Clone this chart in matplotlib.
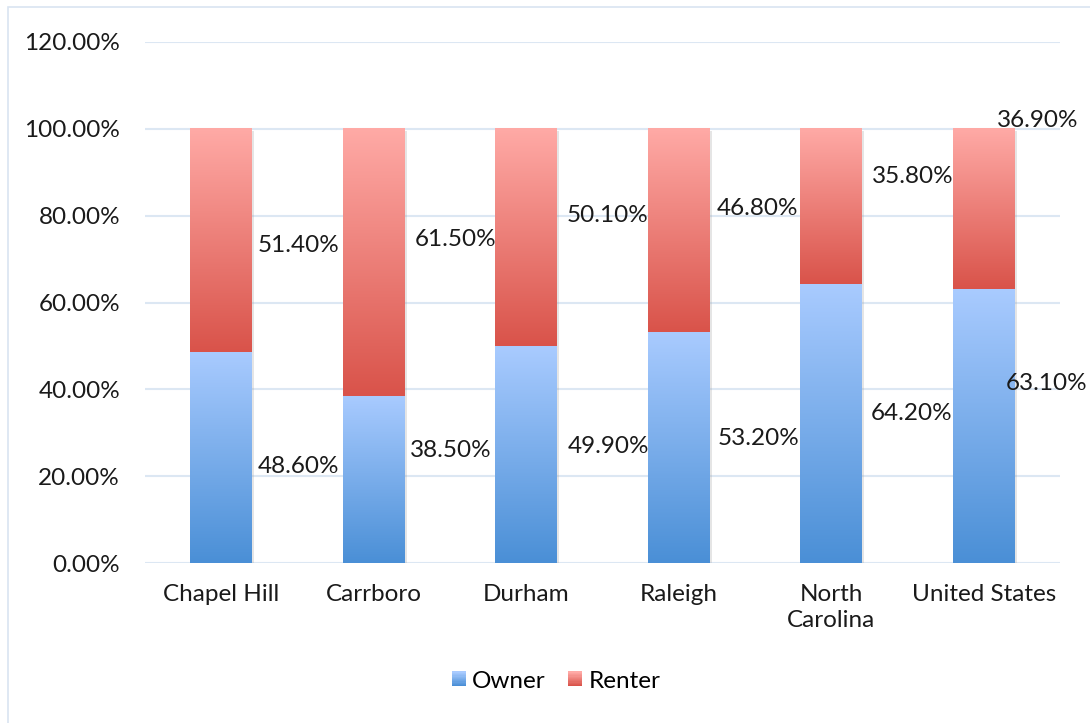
import numpy as np
import matplotlib
matplotlib.use("Agg")
import matplotlib.pyplot as plt
from matplotlib.patches import Rectangle
from matplotlib.legend_handler import HandlerBase
from matplotlib.colors import LinearSegmentedColormap
import matplotlib.patheffects as pe

# ---- data ----
categories = ["Chapel Hill", "Carrboro", "Durham", "Raleigh", "North\nCarolina", "United States"]
owner = [48.6, 38.5, 49.9, 53.2, 64.2, 63.1]
renter = [51.4, 61.5, 50.1, 46.8, 35.8, 36.9]
yticks = [0, 20, 40, 60, 80, 100, 120]

# ---- layout of value labels (as in the reference) ----
owner_lab_y = [22.2, 25.9, 26.8, 28.7, 34.5, 41.4]
renter_lab_y = [73.2, 74.6, 80.1, 81.7, 89.1, 102.0]
owner_lab_dx = [0.236, 0.236, 0.269, 0.256, 0.262, 0.144]
renter_lab_dx = [0.236, 0.269, 0.262, 0.249, 0.269, 0.085]

plt.rcParams['font.family'] = ['Lato', 'DejaVu Sans']
FS = 17.5

blue_cmap = LinearSegmentedColormap.from_list("b", ["#4a8fd6", "#a9cbff"])
red_cmap = LinearSegmentedColormap.from_list("r", ["#d9534a", "#ffaaa6"])

fig = plt.figure(figsize=(10.9, 7.23), dpi=100)
ax = fig.add_axes([145/1090, 1-563/723, (1060-145)/1090, (563-42)/723])

# outer chart border
fig.patches.append(Rectangle((8/1090, -0.02), 1.1, 1-7/723+0.02, transform=fig.transFigure,
                             fill=False, edgecolor="#d9e4f1", linewidth=1.2, zorder=0))

x = np.arange(len(categories))
width = 0.405
shadow = [pe.SimplePatchShadow(offset=(1.5, -1.5), shadow_rgbFace="#999999", alpha=0.25), pe.Normal()]
b1 = ax.bar(x, owner, width, color="white", edgecolor="none", zorder=2)
b2 = ax.bar(x, renter, width, bottom=owner, color="white", edgecolor="none", zorder=2)

grad = np.linspace(0, 1, 256).reshape(-1, 1)
for bars, cmap in ((b1, blue_cmap), (b2, red_cmap)):
    for p in bars:
        p.set_path_effects(shadow)
        x0, y0 = p.get_x(), p.get_y()
        w, h = p.get_width(), p.get_height()
        ax.imshow(grad, cmap=cmap, origin="lower", extent=(x0, x0 + w, y0, y0 + h),
                  aspect="auto", zorder=3, interpolation="bilinear")

# value labels
for i in range(len(categories)):
    ax.text(x[i] + owner_lab_dx[i], owner_lab_y[i], f"{owner[i]:.2f}%", ha="left", va="center",
            fontsize=FS, color="#1a1a1a", zorder=5)
    ax.text(x[i] + renter_lab_dx[i], renter_lab_y[i], f"{renter[i]:.2f}%", ha="left", va="center",
            fontsize=FS, color="#1a1a1a", zorder=5)

ax.set_xlim(-0.5, len(categories) - 0.5)
ax.set_ylim(0, 120)
ax.set_yticks(yticks)
ax.set_yticklabels([f"{v:.2f}%" for v in yticks])
ax.set_xticks(x)
ax.set_xticklabels(categories, linespacing=1.3)
ax.tick_params(axis="both", length=0, labelsize=FS, colors="#1a1a1a")
ax.tick_params(axis="y", pad=18)
ax.tick_params(axis="x", pad=15)
ax.grid(axis="y", color="#dce7f3", linewidth=1.5, zorder=0)
ax.set_axisbelow(True)
for s in ax.spines.values():
    s.set_visible(False)


class GradHandler(HandlerBase):
    def __init__(self, cmap):
        super().__init__()
        self.cmap = cmap

    def create_artists(self, legend, orig_handle, xdescent, ydescent, width, height, fontsize, trans):
        n = 12
        size = height * 0.85
        x0 = -xdescent + width - size
        y0 = -ydescent + (height - size) / 2
        arts = []
        for k in range(n):
            r = Rectangle((x0, y0 + size * k / n), size, size / n + 0.2,
                          facecolor=self.cmap(k / (n - 1)), edgecolor="none", transform=trans)
            arts.append(r)
        return arts


h1 = Rectangle((0, 0), 1, 1)
h2 = Rectangle((0, 0), 1, 1)
fig.legend([h1, h2], ["Owner", "Renter"], loc="center", bbox_to_anchor=(0.509, 1 - 681/723),
           ncol=2, frameon=False, fontsize=FS, handlelength=0.7, handletextpad=0.25,
           columnspacing=0.8, handler_map={h1: GradHandler(blue_cmap), h2: GradHandler(red_cmap)})

fig.savefig("out.png", dpi=100)
